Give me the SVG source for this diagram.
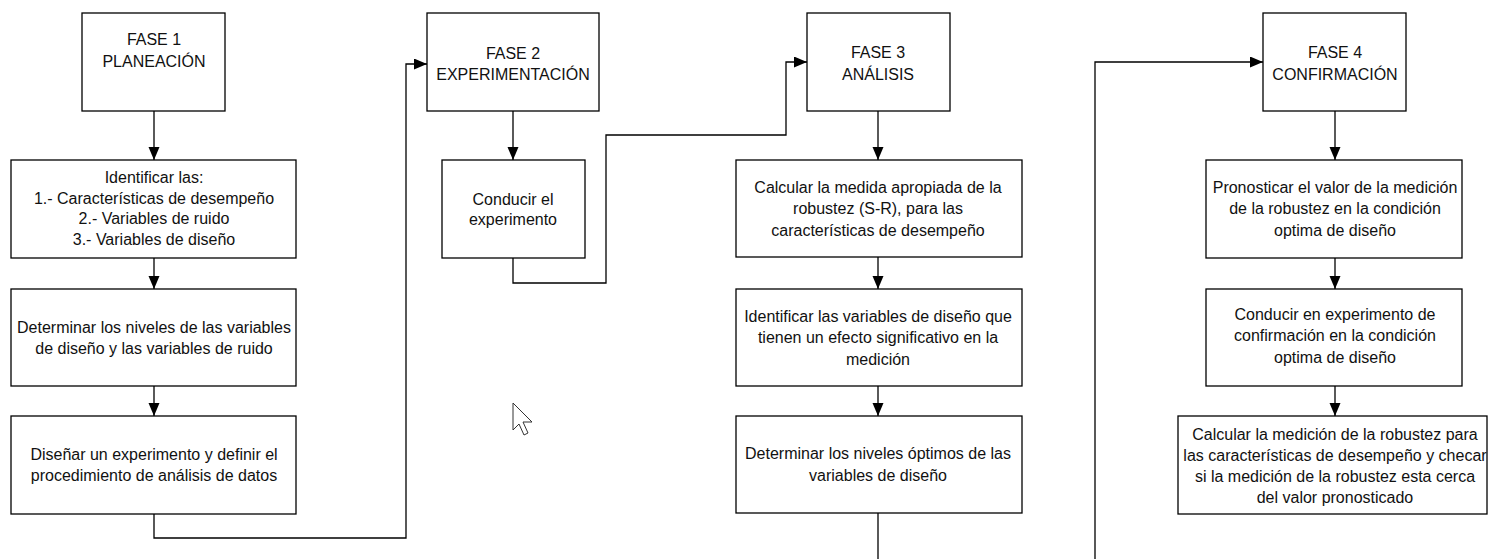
<svg xmlns="http://www.w3.org/2000/svg" width="1488" height="559" viewBox="0 0 1488 559">
<defs>
<marker id="ah" markerUnits="userSpaceOnUse" markerWidth="14" markerHeight="12" refX="13" refY="5.5" orient="auto">
<path d="M0,0 L13,5.5 L0,11 Z" fill="#000"/>
</marker>
<style>
.box{fill:#fff;stroke:#000;stroke-width:1.3}
.c{fill:none;stroke:#000;stroke-width:1.3}
text{font-family:"Liberation Sans",Arial,sans-serif;font-size:16px;fill:#111;text-anchor:middle}
</style>
</defs>
<rect width="1488" height="559" fill="#fff"/>
<g id="connectors">
<path class="c" d="M154,111 V160" marker-end="url(#ah)"/>
<path class="c" d="M154,258 V289" marker-end="url(#ah)"/>
<path class="c" d="M154,386 V416" marker-end="url(#ah)"/>
<path class="c" d="M154,514 V538 H406 V64 H427" marker-end="url(#ah)"/>
<path class="c" d="M513,111 V160" marker-end="url(#ah)"/>
<path class="c" d="M513,258 V283 H606 V135 H786 V62 H807" marker-end="url(#ah)"/>
<path class="c" d="M878,111 V160" marker-end="url(#ah)"/>
<path class="c" d="M878,257 V289" marker-end="url(#ah)"/>
<path class="c" d="M878,386 V416" marker-end="url(#ah)"/>
<path class="c" d="M878,513 V560"/>
<path class="c" d="M1095,560 V62 H1263" marker-end="url(#ah)"/>
<path class="c" d="M1335,111 V160" marker-end="url(#ah)"/>
<path class="c" d="M1335,258 V289" marker-end="url(#ah)"/>
<path class="c" d="M1335,386 V416" marker-end="url(#ah)"/>
</g>
<g id="fase1">
<rect class="box" x="82" y="13" width="143" height="98"/>
<text x="154" y="45">FASE 1</text>
<text x="154" y="67">PLANEACIÓN</text>
</g>
<g id="identificar">
<rect class="box" x="11" y="160" width="285" height="98"/>
<text x="154" y="183">Identificar las:</text>
<text x="154" y="204">1.- Características de desempeño</text>
<text x="154" y="224">2.- Variables de ruido</text>
<text x="154" y="245">3.- Variables de diseño</text>
</g>
<g id="niveles">
<rect class="box" x="11" y="289" width="285" height="97"/>
<text x="154" y="333">Determinar los niveles de las variables</text>
<text x="154" y="354">de diseño y las variables de ruido</text>
</g>
<g id="disenar">
<rect class="box" x="11" y="416" width="285" height="98"/>
<text x="154" y="460">Diseñar un experimento y definir el</text>
<text x="154" y="481">procedimiento de análisis de datos</text>
</g>
<g id="fase2">
<rect class="box" x="427" y="13" width="172" height="98"/>
<text x="513" y="59">FASE 2</text>
<text x="513" y="80">EXPERIMENTACIÓN</text>
</g>
<g id="conducir">
<rect class="box" x="442" y="160" width="143" height="98"/>
<text x="513" y="205">Conducir el</text>
<text x="513" y="225">experimento</text>
</g>
<g id="fase3">
<rect class="box" x="807" y="13" width="143" height="98"/>
<text x="878" y="58">FASE 3</text>
<text x="878" y="80">ANÁLISIS</text>
</g>
<g id="calcular">
<rect class="box" x="736" y="160" width="286" height="97"/>
<text x="878" y="193">Calcular la medida apropiada de la</text>
<text x="878" y="214">robustez (S-R), para las</text>
<text x="878" y="236">características de desempeño</text>
</g>
<g id="identificar-var">
<rect class="box" x="736" y="289" width="286" height="97"/>
<text x="878" y="322">Identificar las variables de diseño que</text>
<text x="878" y="343">tienen un efecto significativo en la</text>
<text x="878" y="365">medición</text>
</g>
<g id="optimos">
<rect class="box" x="736" y="416" width="286" height="97"/>
<text x="878" y="459">Determinar los niveles óptimos de las</text>
<text x="878" y="481">variables de diseño</text>
</g>
<g id="fase4">
<rect class="box" x="1263" y="13" width="143" height="98"/>
<text x="1335" y="58">FASE 4</text>
<text x="1335" y="80">CONFIRMACIÓN</text>
</g>
<g id="pronosticar">
<rect class="box" x="1206" y="160" width="256" height="98"/>
<text x="1335" y="193">Pronosticar el valor de la medición</text>
<text x="1335" y="214">de la robustez en la condición</text>
<text x="1335" y="236">optima de diseño</text>
</g>
<g id="confirmacion">
<rect class="box" x="1206" y="289" width="256" height="97"/>
<text x="1335" y="320">Conducir en experimento de</text>
<text x="1335" y="341">confirmación en la condición</text>
<text x="1335" y="363">optima de diseño</text>
</g>
<g id="calcular-medicion">
<rect class="box" x="1178" y="416" width="309" height="98"/>
<text x="1335" y="440">Calcular la medición de la robustez para</text>
<text x="1335" y="461">las características de desempeño y checar</text>
<text x="1335" y="482">si la medición de la robustez esta cerca</text>
<text x="1335" y="503">del valor pronosticado</text>
</g>
<g id="cursor">
<path d="M513,403 L513,430 L519,424 L524,435 L528,433 L523,422 L532,422 Z" fill="#fff" stroke="#333" stroke-width="1"/>
</g>
</svg>
